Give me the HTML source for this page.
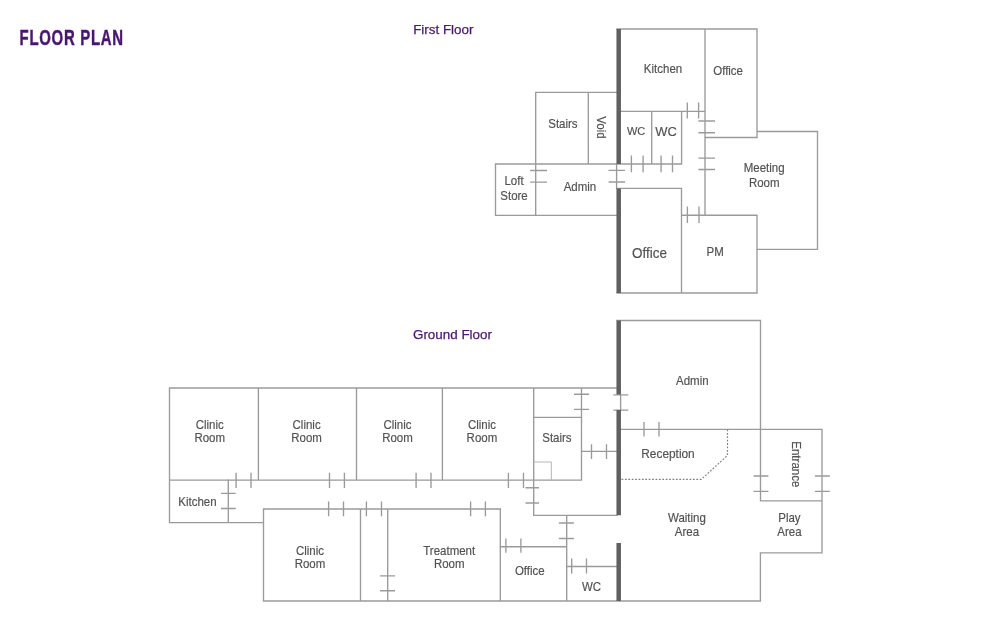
<!DOCTYPE html><html><head><meta charset="utf-8"><style>html,body{margin:0;padding:0;background:#fff;width:1000px;height:634px;overflow:hidden}svg{display:block;will-change:transform}text{font-family:"Liberation Sans",sans-serif}</style></head><body>
<svg width="1000" height="634" viewBox="0 0 1000 634">
<path d="M617 29H757M705 29V215M757 29V137.5M705 137.5H757M757 131.5H817.5M817.5 131.5V249.3M757 249.3H817.5M681.5 215.2H757M757 215.2V293M617 293H757M617 188.4H681.5M681.5 188.4V293M621 111.3H705M651.7 111.3V164M681.6 111.3V164M495.5 164H681.6M535.7 92.3H617M535.7 92.3V215.3M588.3 92.3V164M495.5 164V215.3M495.5 215.3H617M616.6 164V188.5M620.6 394.8V410.1M617 320.5H760.5M760.5 320.5V500.8M621 429.3H822M822 429.9V552.8M760.5 500.8H822M760.4 552.8H822M760.4 552.8V601M263.5 601H760.4M169.5 388H617M169.5 388V522.6M258.4 388V479.8M356.5 388V479.8M442.4 388V479.8M533.7 388V515.3M169.5 480.1H581.5M228.3 479.8V522.6M169.5 522.6H263.5M263.5 509H500.3M263.5 509V601M360.5 509V601M387.7 509V601M500.3 509V601M500.3 546.7H566.7M566.7 515.3V601M566.7 566.5H617M533.7 515.3H617M533.7 417.3H581.5M581.5 388V479.8M581.5 451.4H617" stroke="#9a9a9a" stroke-width="1.35" stroke-linecap="square" fill="none"/>
<path d="M687.3 102.4V118.5M698.6 102.4V118.5M698.4 121H715M698.4 132.7H715M698.4 158.1H715M698.4 169.5H715M687.4 206.4V222.9M699 206.4V222.9M631.4 155.5V172.3M643.1 155.5V172.3M661.1 155.5V172.3M672.5 155.5V172.3M608.6 170.3H625M608.6 182H625M530.2 170.5H547M530.2 182.1H547M236.1 472.8V488.1M251 472.8V488.1M329.5 472.8V488.1M344.4 472.8V488.1M416.1 472.8V488.1M431 472.8V488.1M508.4 472.8V488.1M523.5 472.8V488.1M221 493.4H235.7M221 508.5H235.7M328.6 501.5V516.2M343.5 501.5V516.2M366.4 501.5V516.2M381.5 501.5V516.2M470.6 501.5V516.2M485.4 501.5V516.2M525.5 487.7H539M525.5 503H539M574 394.2H589.1M574 409.4H589.1M591.5 444.2V459M606.5 444.2V459M380.1 575.9H395M380.1 590.7H395M505.9 538.5V552.8M520.9 538.5V552.8M558.9 523H573.9M558.9 538.5H573.9M571.7 558.4V573.4M586.5 558.4V573.4M753.5 476H768.4M814.9 476H829.8M753.5 491.3H768.4M814.9 491.3H829.8M644 422V436.4M659 422V436.4M613.3 394.8H628.3M613.3 410.1H628.3" stroke="#9a9a9a" stroke-width="1.35" fill="none"/>
<path d="M533.7 462H551.3V480" stroke="#b5b5b5" stroke-width="1" fill="none"/>
<path d="M727.5 429.5V455.4L701.4 479.3H621" stroke="#808080" stroke-width="1.2" stroke-dasharray="1.8 1.6" fill="none"/>
<path d="M618.7 29V164M618.7 188.5V293M618.7 320.5V394.6M618.7 410V515.3M618.7 543V601" stroke="#606060" stroke-width="4.5" fill="none"/>
<text font-size="11.9" fill="#525252" stroke="#525252" stroke-width="0.18" text-anchor="middle" transform="translate(562.9 123.6) rotate(0) scale(0.965 1)" y="4.09">Stairs</text>
<text font-size="11.9" fill="#525252" stroke="#525252" stroke-width="0.18" text-anchor="middle" transform="translate(601.4 127.4) rotate(90) scale(0.965 1)" y="4.09">Void</text>
<text font-size="11.9" fill="#525252" stroke="#525252" stroke-width="0.18" text-anchor="middle" transform="translate(514 180.4) rotate(0) scale(0.965 1)" y="4.09">Loft</text>
<text font-size="11.9" fill="#525252" stroke="#525252" stroke-width="0.18" text-anchor="middle" transform="translate(514 195.4) rotate(0) scale(0.965 1)" y="4.09">Store</text>
<text font-size="11.9" fill="#525252" stroke="#525252" stroke-width="0.18" text-anchor="middle" transform="translate(579.9 186.6) rotate(0) scale(0.965 1)" y="4.09">Admin</text>
<text font-size="11.9" fill="#525252" stroke="#525252" stroke-width="0.18" text-anchor="middle" transform="translate(663 68.9) rotate(0) scale(0.965 1)" y="4.09">Kitchen</text>
<text font-size="11.9" fill="#525252" stroke="#525252" stroke-width="0.18" text-anchor="middle" transform="translate(728.1 70.6) rotate(0) scale(0.965 1)" y="4.09">Office</text>
<text font-size="11.38" fill="#525252" stroke="#525252" stroke-width="0.18" text-anchor="middle" transform="translate(636.1 130.9) rotate(0) scale(0.965 1)" y="3.92">WC</text>
<text font-size="13.45" fill="#525252" stroke="#525252" stroke-width="0.18" text-anchor="middle" transform="translate(666.1 131.6) rotate(0) scale(0.965 1)" y="4.63">WC</text>
<text font-size="11.9" fill="#525252" stroke="#525252" stroke-width="0.18" text-anchor="middle" transform="translate(764.2 167.5) rotate(0) scale(0.965 1)" y="4.09">Meeting</text>
<text font-size="11.9" fill="#525252" stroke="#525252" stroke-width="0.18" text-anchor="middle" transform="translate(764.2 182.4) rotate(0) scale(0.965 1)" y="4.09">Room</text>
<text font-size="13.97" fill="#525252" stroke="#525252" stroke-width="0.18" text-anchor="middle" transform="translate(649.6 253.4) rotate(0) scale(0.965 1)" y="4.81">Office</text>
<text font-size="11.9" fill="#525252" stroke="#525252" stroke-width="0.18" text-anchor="middle" transform="translate(715.2 251.5) rotate(0) scale(0.965 1)" y="4.09">PM</text>
<text font-size="11.9" fill="#525252" stroke="#525252" stroke-width="0.18" text-anchor="middle" transform="translate(692.3 380.4) rotate(0) scale(0.965 1)" y="4.09">Admin</text>
<text font-size="12.31" fill="#525252" stroke="#525252" stroke-width="0.18" text-anchor="middle" transform="translate(668 453.8) rotate(0) scale(0.965 1)" y="4.24">Reception</text>
<text font-size="11.9" fill="#525252" stroke="#525252" stroke-width="0.18" text-anchor="middle" transform="translate(796.2 464.3) rotate(90) scale(0.965 1)" y="4.09">Entrance</text>
<text font-size="11.9" fill="#525252" stroke="#525252" stroke-width="0.18" text-anchor="middle" transform="translate(789.4 518.2) rotate(0) scale(0.965 1)" y="4.09">Play</text>
<text font-size="11.9" fill="#525252" stroke="#525252" stroke-width="0.18" text-anchor="middle" transform="translate(789.4 531.4) rotate(0) scale(0.965 1)" y="4.09">Area</text>
<text font-size="11.9" fill="#525252" stroke="#525252" stroke-width="0.18" text-anchor="middle" transform="translate(686.9 518.2) rotate(0) scale(0.965 1)" y="4.09">Waiting</text>
<text font-size="11.9" fill="#525252" stroke="#525252" stroke-width="0.18" text-anchor="middle" transform="translate(686.9 531.4) rotate(0) scale(0.965 1)" y="4.09">Area</text>
<text font-size="11.9" fill="#525252" stroke="#525252" stroke-width="0.18" text-anchor="middle" transform="translate(209.7 424.5) rotate(0) scale(0.965 1)" y="4.09">Clinic</text>
<text font-size="11.9" fill="#525252" stroke="#525252" stroke-width="0.18" text-anchor="middle" transform="translate(209.7 437.5) rotate(0) scale(0.965 1)" y="4.09">Room</text>
<text font-size="11.9" fill="#525252" stroke="#525252" stroke-width="0.18" text-anchor="middle" transform="translate(306.6 424.5) rotate(0) scale(0.965 1)" y="4.09">Clinic</text>
<text font-size="11.9" fill="#525252" stroke="#525252" stroke-width="0.18" text-anchor="middle" transform="translate(306.6 437.5) rotate(0) scale(0.965 1)" y="4.09">Room</text>
<text font-size="11.9" fill="#525252" stroke="#525252" stroke-width="0.18" text-anchor="middle" transform="translate(397.5 424.5) rotate(0) scale(0.965 1)" y="4.09">Clinic</text>
<text font-size="11.9" fill="#525252" stroke="#525252" stroke-width="0.18" text-anchor="middle" transform="translate(397.5 437.5) rotate(0) scale(0.965 1)" y="4.09">Room</text>
<text font-size="11.9" fill="#525252" stroke="#525252" stroke-width="0.18" text-anchor="middle" transform="translate(481.9 424.5) rotate(0) scale(0.965 1)" y="4.09">Clinic</text>
<text font-size="11.9" fill="#525252" stroke="#525252" stroke-width="0.18" text-anchor="middle" transform="translate(481.9 437.5) rotate(0) scale(0.965 1)" y="4.09">Room</text>
<text font-size="11.9" fill="#525252" stroke="#525252" stroke-width="0.18" text-anchor="middle" transform="translate(556.9 437.8) rotate(0) scale(0.965 1)" y="4.09">Stairs</text>
<text font-size="11.9" fill="#525252" stroke="#525252" stroke-width="0.18" text-anchor="middle" transform="translate(197.4 501.6) rotate(0) scale(0.965 1)" y="4.09">Kitchen</text>
<text font-size="11.9" fill="#525252" stroke="#525252" stroke-width="0.18" text-anchor="middle" transform="translate(310 550.4) rotate(0) scale(0.965 1)" y="4.09">Clinic</text>
<text font-size="11.9" fill="#525252" stroke="#525252" stroke-width="0.18" text-anchor="middle" transform="translate(310 563.6) rotate(0) scale(0.965 1)" y="4.09">Room</text>
<text font-size="11.9" fill="#525252" stroke="#525252" stroke-width="0.18" text-anchor="middle" transform="translate(449.2 550.4) rotate(0) scale(0.965 1)" y="4.09">Treatment</text>
<text font-size="11.9" fill="#525252" stroke="#525252" stroke-width="0.18" text-anchor="middle" transform="translate(449.2 563.6) rotate(0) scale(0.965 1)" y="4.09">Room</text>
<text font-size="11.9" fill="#525252" stroke="#525252" stroke-width="0.18" text-anchor="middle" transform="translate(529.8 570.5) rotate(0) scale(0.965 1)" y="4.09">Office</text>
<text font-size="11.9" fill="#525252" stroke="#525252" stroke-width="0.18" text-anchor="middle" transform="translate(591.6 586.4) rotate(0) scale(0.965 1)" y="4.09">WC</text>
<text x="413.2" y="34.2" font-size="13.4" fill="#4a1570" stroke="#4a1570" stroke-width="0.25">First Floor</text>
<text x="413" y="339" font-size="13.4" fill="#4a1570" stroke="#4a1570" stroke-width="0.25">Ground Floor</text>
<text x="19.6" y="44.7" font-size="22.95" font-weight="bold" fill="#4a1570" stroke="#4a1570" stroke-width="0.5" transform="translate(19.6 0) scale(0.651 1) translate(-19.6 0)" letter-spacing="1.1">FLOOR PLAN</text>
</svg></body></html>
